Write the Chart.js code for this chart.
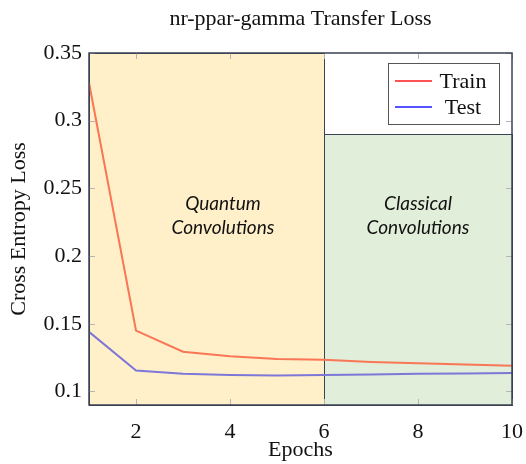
<!DOCTYPE html>
<html>
<head>
<meta charset="utf-8">
<script src="https://cdn.jsdelivr.net/npm/chart.js@4/dist/chart.umd.min.js"></script>
<style>
  html, body { margin: 0; padding: 0; background: #ffffff; }
  #wrap { width: 526px; height: 464px; }
</style>
</head>
<body>
<div id="wrap"><canvas id="c" width="526" height="464"></canvas></div>
<script>
// Loss per epoch for the transfer run
const epochs = [1, 2, 3, 4, 5, 6, 7, 8, 9, 10];
const trainLoss = [0.328, 0.145, 0.1294, 0.126, 0.124, 0.1235, 0.1218, 0.1208, 0.1199, 0.119];
const testLoss = [0.144, 0.1154, 0.113, 0.1122, 0.1118, 0.1122, 0.1125, 0.113, 0.1133, 0.1137];

// Axis ticks
const xTickValues = [2, 4, 6, 8, 10];
const yTickValues = [0.1, 0.15, 0.2, 0.25, 0.3, 0.35];

// Training phases (epoch ranges, upper loss bound) and their captions
const phaseQuantum = { from: 1, to: 6, top: 0.35, lines: ['Quantum', 'Convolutions'], cx: 3.85, cy: 0.23 };
const phaseClassical = { from: 6, to: 10, top: 0.29, lines: ['Classical', 'Convolutions'], cx: 8.0, cy: 0.23 };

const SERIF = '"Liberation Serif", "DejaVu Serif", serif';
const EDGE = '#3a4253';
const FS = 22;

const phasePlugin = {
  id: 'phases',
  beforeDatasetsDraw(chart) {
    const { ctx, scales: { x, y } } = chart;
    const yb = y.getPixelForValue(y.min);
    const drawPhase = (p, fill) => {
      const x0 = x.getPixelForValue(p.from), x1 = x.getPixelForValue(p.to);
      const y0 = y.getPixelForValue(p.top);
      ctx.save();
      ctx.fillStyle = fill;
      ctx.fillRect(x0, y0, x1 - x0, yb - y0);
      ctx.strokeStyle = EDGE;
      ctx.lineWidth = 1;
      ctx.strokeRect(Math.round(x0) + 0.5, Math.round(y0) + 0.5, Math.round(x1 - x0), Math.round(yb - y0));
      ctx.restore();
    };
    drawPhase(phaseQuantum, '#fff0c9');
    drawPhase(phaseClassical, '#e1eed9');
  },
  afterDatasetsDraw(chart) {
    const { ctx, chartArea: a, scales: { x, y } } = chart;
    ctx.save();
    // inward tick marks on all four sides
    ctx.strokeStyle = '#b4b4b4';
    ctx.lineWidth = 1;
    const len = 6;
    xTickValues.forEach(v => {
      const px = Math.round(x.getPixelForValue(v)) + 0.5;
      ctx.beginPath();
      ctx.moveTo(px, a.bottom); ctx.lineTo(px, a.bottom - len);
      ctx.moveTo(px, a.top); ctx.lineTo(px, a.top + len);
      ctx.stroke();
    });
    yTickValues.forEach(v => {
      const py = Math.round(y.getPixelForValue(v)) + 0.5;
      ctx.beginPath();
      ctx.moveTo(a.left, py); ctx.lineTo(a.left + len, py);
      ctx.moveTo(a.right, py); ctx.lineTo(a.right - len, py);
      ctx.stroke();
    });
    // frame around the plot
    ctx.strokeStyle = EDGE;
    ctx.lineWidth = 1.5;
    ctx.strokeRect(a.left, a.top, a.right - a.left, a.bottom - a.top);

    // phase captions
    ctx.fillStyle = '#111111';
    ctx.font = 'italic 19px Lato, "Open Sans", sans-serif';
    ctx.textAlign = 'center';
    ctx.textBaseline = 'middle';
    [phaseQuantum, phaseClassical].forEach(p => {
      const cx = x.getPixelForValue(p.cx), cy = y.getPixelForValue(p.cy);
      ctx.fillText(p.lines[0], cx, cy - 12);
      ctx.fillText(p.lines[1], cx, cy + 12);
    });

    // legend box in the upper right
    const bx = 388.5, by = 63.5, bw = 111, bh = 61;
    ctx.fillStyle = '#ffffff';
    ctx.fillRect(bx, by, bw, bh);
    ctx.strokeStyle = '#555555';
    ctx.lineWidth = 1;
    ctx.strokeRect(bx, by, bw, bh);
    const items = [
      { label: 'Train', color: '#ff1a1a', y: 81 },
      { label: 'Test', color: '#1a1aff', y: 107 }
    ];
    ctx.font = FS + 'px ' + SERIF;
    ctx.textAlign = 'center';
    items.forEach(it => {
      ctx.strokeStyle = it.color;
      ctx.lineWidth = 1.5;
      ctx.beginPath();
      ctx.moveTo(395, it.y); ctx.lineTo(432, it.y);
      ctx.stroke();
      ctx.fillStyle = '#111111';
      ctx.fillText(it.label, 463, it.y + 1);
    });
    ctx.restore();
  }
};

new Chart(document.getElementById('c'), {
  type: 'line',
  data: {
    datasets: [
      {
        label: 'Train',
        data: epochs.map((e, i) => ({ x: e, y: trainLoss[i] })),
        borderColor: '#f97656',
        borderWidth: 2,
        pointRadius: 0,
        tension: 0,
        fill: false
      },
      {
        label: 'Test',
        data: epochs.map((e, i) => ({ x: e, y: testLoss[i] })),
        borderColor: '#7d77d7',
        borderWidth: 2,
        pointRadius: 0,
        tension: 0,
        fill: false
      }
    ]
  },
  options: {
    responsive: false,
    animation: false,
    devicePixelRatio: 1,
    layout: { padding: { left: 0, right: 14, top: 0, bottom: 0 } },
    plugins: {
      legend: { display: false },
      tooltip: { enabled: false },
      title: {
        display: true,
        fullSize: false,
        text: 'nr-ppar-gamma Transfer Loss',
        color: '#111111',
        font: { family: SERIF, size: FS, weight: 'normal' },
        padding: { top: 6, bottom: 20.6 }
      }
    },
    scales: {
      x: {
        type: 'linear',
        min: 1,
        max: 10,
        afterBuildTicks(s) { s.ticks = xTickValues.map(v => ({ value: v })); },
        afterFit(s) { s.height = 59; s.paddingLeft = 0; s.paddingRight = 0; },
        grid: { display: false, drawTicks: false },
        border: { display: false },
        ticks: {
          color: '#111111',
          font: { family: SERIF, size: FS },
          padding: 14,
          maxRotation: 0,
          callback: v => String(v)
        },
        title: {
          display: true,
          text: 'Epochs',
          color: '#111111',
          font: { family: SERIF, size: FS },
          padding: { top: 0, bottom: 1 }
        }
      },
      y: {
        type: 'linear',
        min: 0.09,
        max: 0.35,
        afterBuildTicks(s) { s.ticks = yTickValues.map(v => ({ value: v })); },
        afterFit(s) { s.width = 89; s.paddingTop = 0; s.paddingBottom = 0; },
        grid: { display: false, drawTicks: false },
        border: { display: false },
        ticks: {
          color: '#111111',
          font: { family: SERIF, size: FS },
          padding: 7,
          callback: v => String(+v.toFixed(2))
        },
        title: {
          display: true,
          text: 'Cross Entropy Loss',
          color: '#111111',
          font: { family: SERIF, size: FS },
          padding: { top: 6, bottom: 0 }
        }
      }
    }
  },
  plugins: [phasePlugin]
});
</script>
</body>
</html>
